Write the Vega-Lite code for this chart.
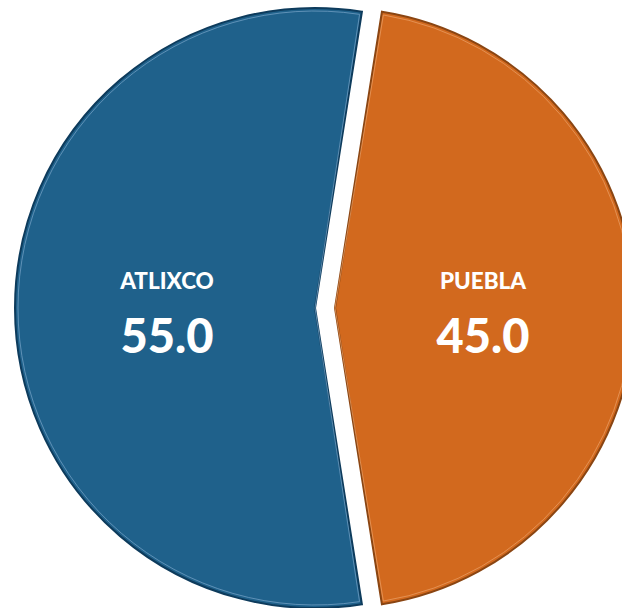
{
  "$schema": "https://vega.github.io/schema/vega-lite/v6.json",
  "width": 650,
  "height": 616,
  "padding": 0,
  "autosize": "none",
  "background": "white",
  "config": {"view": {"stroke": null}},
  "data": {"values": [
    {"category": "PUEBLA", "value": 45.0},
    {"category": "ATLIXCO", "value": 55.0}
  ]},
  "transform": [
    {"stack": "value", "groupby": [], "as": ["t0", "t1"], "sort": [{"field": "category", "order": "descending"}]}
  ],
  "layer": [
    {
      "transform": [{"filter": "datum.category === 'PUEBLA'"}],
      "mark": {"type": "arc", "radius": 300, "xOffset": 10, "stroke": "#8a4512", "strokeWidth": 2, "fill": "#d2691e"},
      "encoding": {
        "theta": {"field": "t0", "type": "quantitative", "scale": {"domain": [0, 100], "range": [0.1571, 6.4403]}},
        "theta2": {"field": "t1"}
      }
    },
    {
      "transform": [{"filter": "datum.category === 'ATLIXCO'"}],
      "mark": {"type": "arc", "radius": 300, "xOffset": -10, "stroke": "#0d3b5c", "strokeWidth": 2, "fill": "#1f618b"},
      "encoding": {
        "theta": {"field": "t0", "type": "quantitative", "scale": {"domain": [0, 100], "range": [0.1571, 6.4403]}},
        "theta2": {"field": "t1"}
      }
    },
    {
      "transform": [{"filter": "datum.category === 'PUEBLA'"}],
      "mark": {"type": "arc", "radius": 297, "padAngle": 0.013, "xOffset": 10, "stroke": "#e89a60", "strokeWidth": 0.8, "fill": null, "fillOpacity": 0},
      "encoding": {
        "theta": {"field": "t0", "type": "quantitative", "scale": {"domain": [0, 100], "range": [0.1571, 6.4403]}},
        "theta2": {"field": "t1"}
      }
    },
    {
      "transform": [{"filter": "datum.category === 'ATLIXCO'"}],
      "mark": {"type": "arc", "radius": 297, "padAngle": 0.013, "xOffset": -10, "stroke": "#6f9dc2", "strokeWidth": 0.8, "fill": null, "fillOpacity": 0},
      "encoding": {
        "theta": {"field": "t0", "type": "quantitative", "scale": {"domain": [0, 100], "range": [0.1571, 6.4403]}},
        "theta2": {"field": "t1"}
      }
    },
    {
      "mark": {"type": "text", "radius": 158, "dy": -26, "fontSize": 22.5, "font": "Lato", "fontWeight": 900, "letterSpacing": 1.5, "fill": "white", "baseline": "middle", "align": "center"},
      "encoding": {
        "theta": {"field": "value", "type": "quantitative", "stack": true},
        "order": {"field": "category", "sort": "descending"},
        "text": {"field": "category", "type": "nominal"}
      }
    },
    {
      "mark": {"type": "text", "radius": 158, "dy": 31, "fontSize": 47, "font": "Lato", "fontWeight": 900, "fill": "white", "baseline": "middle", "align": "center"},
      "encoding": {
        "theta": {"field": "value", "type": "quantitative", "stack": true},
        "order": {"field": "category", "sort": "descending"},
        "text": {"field": "value", "type": "quantitative", "format": ".1f"}
      }
    }
  ]
}
